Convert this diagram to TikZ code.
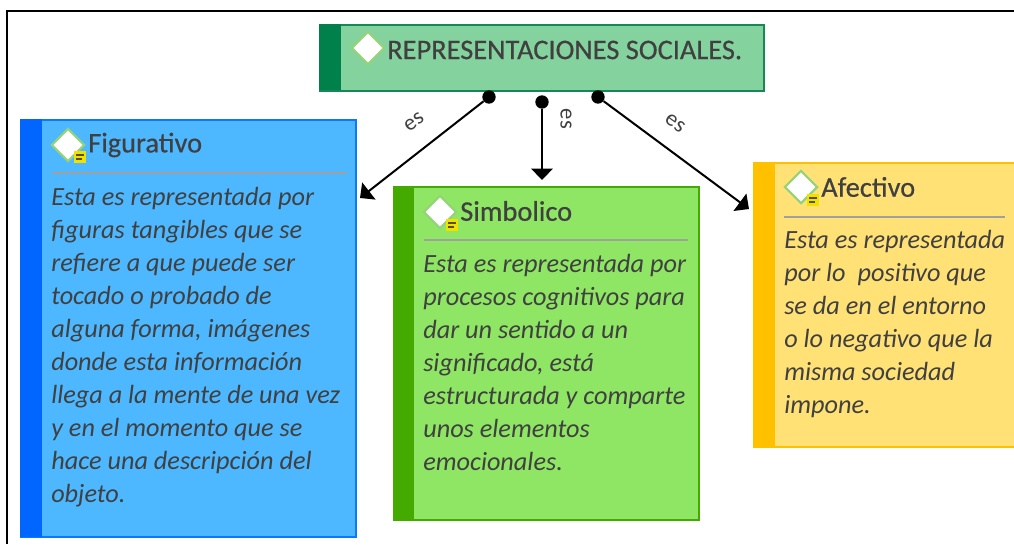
\documentclass[tikz,border=0pt]{standalone}
\usepackage{fontspec}
\setmainfont{Carlito}
\newfontfamily\titlefont[FakeBold=0.5]{Carlito}
\usepackage{tikz}
\usetikzlibrary{shapes.geometric,arrows.meta}
\definecolor{ink}{HTML}{404040}
\definecolor{root_fill}{HTML}{84D29E}
\definecolor{root_line}{HTML}{188758}
\definecolor{root_bar}{HTML}{00804A}
\definecolor{blue_fill}{HTML}{4DB8FF}
\definecolor{blue_line}{HTML}{0A78FF}
\definecolor{blue_bar}{HTML}{0066FF}
\definecolor{green_fill}{HTML}{8EE664}
\definecolor{green_line}{HTML}{44AA00}
\definecolor{yellow_fill}{HTML}{FFE175}
\definecolor{yellow_line}{HTML}{FFC000}
\definecolor{icon_line}{HTML}{96D278}
\definecolor{note_fill}{HTML}{F0E100}
\definecolor{note_ink}{HTML}{5A5000}
\definecolor{rule_gray}{HTML}{A0A0A0}
\tikzstyle{box_base} = [rectangle, draw, line width=1.5pt, anchor=north west, inner sep=0pt]
\tikzstyle{box_root} = [box_base, fill=root_fill, draw=root_line]
\tikzstyle{box_blue} = [box_base, fill=blue_fill, draw=blue_line]
\tikzstyle{box_green} = [box_base, fill=green_fill, draw=green_line]
\tikzstyle{box_yellow} = [box_base, fill=yellow_fill, draw=yellow_line]
\tikzstyle{node_icon} = [diamond, draw=icon_line, fill=white, line width=1.6pt, inner sep=0pt, minimum size=25pt, aspect=1]
\tikzstyle{node_note} = [rectangle, fill=note_fill, inner sep=0pt, minimum width=9.5pt, minimum height=9pt]
\tikzstyle{note_line} = [line width=1pt, draw=note_ink]
\tikzstyle{node_dot} = [circle, fill=black, inner sep=0pt, minimum size=10pt]
\tikzstyle{edge_es} = [line width=1.5pt, -{Triangle[length=8.5pt,width=16pt]}]
\tikzstyle{label_es} = [font=\fontsize{17}{20}\selectfont, text=ink, inner sep=0pt]
\tikzstyle{node_title} = [anchor=west, font=\titlefont\fontsize{21.3}{25}\selectfont, text=ink, inner sep=0pt]
\tikzstyle{node_body} = [anchor=north west, align=left, font=\fontsize{19.7}{24.75}\selectfont\itshape, text=ink, inner sep=0pt]
\tikzstyle{rule_line} = [line width=1.2pt, draw=rule_gray]
\begin{document}
\begin{tikzpicture}[x=0.75pt,y=-0.75pt]
	\useasboundingbox (0,0) rectangle (1014,544);
	% frame
	\draw[line width=1.5pt] (7,544)--(7,11)--(1014,11);
	% root
	\node (root) at (319,24) [box_root, minimum width=333pt, minimum height=49.5pt] {};
	\fill[root_bar] (319,24) rectangle (341,90);
	\node (root_icon) at (368,48) [node_icon] {};
	\node (root_title) at (387,50) [node_title] {REPRESENTACIONES SOCIALES.};
	% figurativo
	\node (fig) at (20,119) [box_blue, minimum width=251pt, minimum height=313pt] {};
	\fill[blue_bar] (20,119) rectangle (42,537);
	\node (fig_icon) at (68,145) [node_icon] {};
	\node (fig_note) at (80,157) [node_note] {};
	\draw[note_line] (fig_note.center)+(-4,-2)--+(4,-2) (fig_note.center)+(-4,2)--+(2,2);
	\node (fig_title) at (88,145) [node_title] {Figurativo};
	\draw[rule_line] (52,173)--(347,173);
	\node (fig_body) at (51,187) [node_body] {Esta es representada por\\figuras tangibles que se\\refiere a que puede ser\\tocado o probado de\\alguna forma, imágenes\\donde esta información\\llega a la mente de una vez\\y en el momento que se\\hace una descripción del\\objeto.};
	% simbolico
	\node (sim) at (393,186) [box_green, minimum width=228.5pt, minimum height=250pt] {};
	\fill[green_line] (393,186) rectangle (414,521);
	\node (sim_icon) at (440,212) [node_icon] {};
	\node (sim_note) at (452,225) [node_note] {};
	\draw[note_line] (sim_note.center)+(-4,-2)--+(4,-2) (sim_note.center)+(-4,2)--+(2,2);
	\node (sim_title) at (460,211) [node_title] {Simbolico};
	\draw[rule_line] (424,240)--(688,240);
	\node (sim_body) at (423,254) [node_body] {Esta es representada por\\procesos cognitivos para\\dar un sentido a un\\significado, está\\estructurada y comparte\\unos elementos\\emocionales.};
	% afectivo
	\node (afe) at (753,162) [box_yellow, minimum width=195.5pt, minimum height=213pt] {};
	\fill[yellow_line] (753,162) rectangle (775,447);
	\node (afe_icon) at (801,187) [node_icon] {};
	\node (afe_note) at (813,200) [node_note] {};
	\draw[note_line] (afe_note.center)+(-4,-2)--+(4,-2) (afe_note.center)+(-4,2)--+(2,2);
	\node (afe_title) at (821,187) [node_title] {Afectivo};
	\draw[rule_line] (784,217)--(1005,217);
	\node (afe_body) at (784,230) [node_body] {Esta es representada\\por lo~~positivo que\\se da en el entorno\\o lo negativo que la\\misma sociedad\\impone.};
	% connectors
	\node (dot_a) at (489,97) [node_dot] {};
	\node (dot_b) at (542,102) [node_dot] {};
	\node (dot_c) at (598,97) [node_dot] {};
	\coordinate (tip_a) at (360,198);
	\coordinate (tip_b) at (542,180);
	\coordinate (tip_c) at (749,209);
	\draw[edge_es] (dot_a)--(tip_a);
	\draw[edge_es] (dot_b)--(tip_b);
	\draw[edge_es] (dot_c)--(tip_c);
	\node (es_a) at (414,122) [label_es, rotate=36] {es};
	\node (es_b) at (566,119) [label_es, rotate=-90] {es};
	\node (es_c) at (675,123) [label_es, rotate=-36] {es};
\end{tikzpicture}
\end{document}
